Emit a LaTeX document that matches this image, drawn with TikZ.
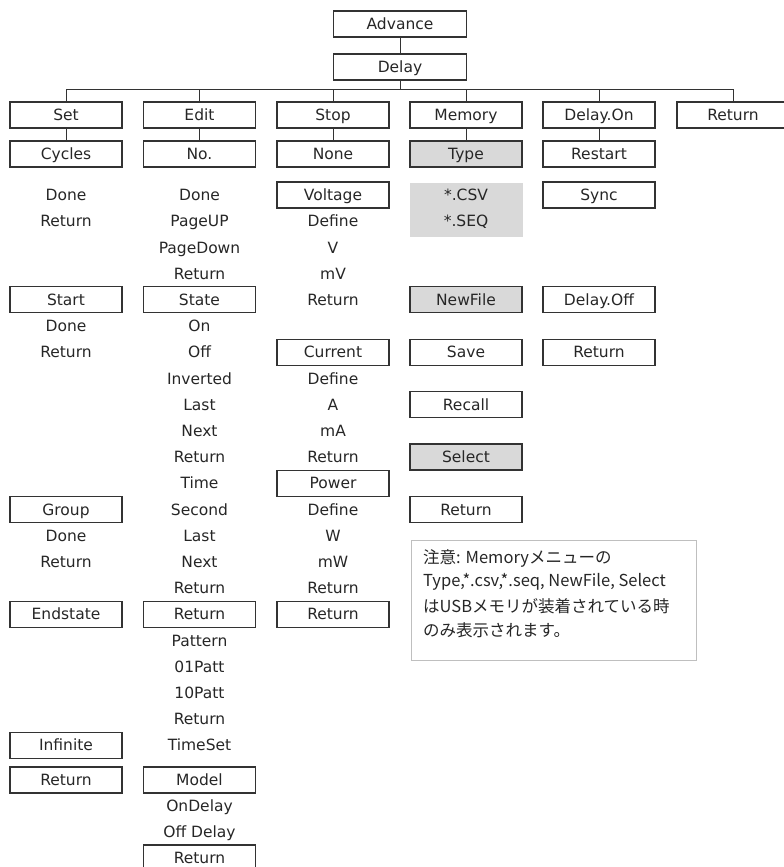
\documentclass[tikz,border=0pt]{standalone}
\usepackage{fontspec}
\setmainfont{DejaVu Sans}
\newfontfamily\jpfont{Noto Sans CJK JP}
\definecolor{boxline}{HTML}{333333}
\definecolor{txtcol}{HTML}{262626}
\definecolor{grayfill}{HTML}{D9D9D9}
\definecolor{noteline}{HTML}{BFBFBF}
\tikzset{
  mtxt/.style={inner sep=0pt, text=txtcol, font=\fontsize{15.5}{18}\selectfont, text height=15pt, text depth=3.5pt},
  mbox/.style={mtxt, draw=boxline, line width=1.15pt, minimum width=112pt, minimum height=26pt},
  gbox/.style={mbox, fill=grayfill},
  conn/.style={draw=boxline, line width=1pt},
  notetxt/.style={anchor=west, inner sep=0pt, text=txtcol, font=\jpfont\fontsize{16.5}{20}\selectfont}
}
\begin{document}
\begin{tikzpicture}[x=1pt,y=-1pt]
\useasboundingbox (0,0) rectangle (784,867);
\clip (0,0) rectangle (784,867);
% top
\node[mbox, minimum width=133pt] (advance) at (400,24) {Advance};
\node[mbox, minimum width=133pt] (delay) at (400,67) {Delay};
% level 1
\node[mbox] (set) at (66,115) {Set};
\node[mbox] (edit) at (199.5,115) {Edit};
\node[mbox] (stop) at (333,115) {Stop};
\node[mbox] (memory) at (466,115) {Memory};
\node[mbox] (delayon) at (599,115) {Delay.On};
\node[mbox] (ret) at (733,115) {Return};
% level 2
\node[mbox] (cycles) at (66,154) {Cycles};
\node[mbox] (no) at (199.5,154) {No.};
\node[mbox] (none) at (333,154) {None};
\node[gbox] (type) at (466,154) {Type};
\node[mbox] (restart) at (599,154) {Restart};
% connectors
\draw[conn] (advance) -- (delay);
\coordinate (bus) at (400,89);
\foreach \n in {set,edit,stop,memory,delayon,ret}{
  \draw[conn] (delay.south) -- (bus) -| (\n.north);
}
\draw[conn] (set) -- (cycles);
\draw[conn] (edit) -- (no);
\draw[conn] (stop) -- (none);
\draw[conn] (memory) -- (type);
\draw[conn] (delayon) -- (restart);
% Set column
\node[mtxt] (s1) at (66,195) {Done};
\node[mtxt] (s2) at (66,221.2) {Return};
\node[mbox] (start) at (66,299.8) {Start};
\node[mtxt] (s6) at (66,326) {Done};
\node[mtxt] (s7) at (66,352.2) {Return};
\node[mbox] (group) at (66,509.4) {Group};
\node[mtxt] (s14) at (66,535.6) {Done};
\node[mtxt] (s15) at (66,561.8) {Return};
\node[mbox] (endstate) at (66,614.2) {Endstate};
\node[mbox] (infinite) at (66,745.2) {Infinite};
\node[mbox] (setret) at (66,780) {Return};
% Edit column
\node[mtxt] (e1) at (199.5,195) {Done};
\node[mtxt] (e2) at (199.5,221.2) {PageUP};
\node[mtxt] (e3) at (199.5,247.4) {PageDown};
\node[mtxt] (e4) at (199.5,273.6) {Return};
\node[mbox] (state) at (199.5,299.8) {State};
\node[mtxt] (e6) at (199.5,326) {On};
\node[mtxt] (e7) at (199.5,352.2) {Off};
\node[mtxt] (e8) at (199.5,378.4) {Inverted};
\node[mtxt] (e9) at (199.5,404.6) {Last};
\node[mtxt] (e10) at (199.5,430.8) {Next};
\node[mtxt] (e11) at (199.5,457) {Return};
\node[mtxt] (e12) at (199.5,483.2) {Time};
\node[mtxt] (e13) at (199.5,509.4) {Second};
\node[mtxt] (e14) at (199.5,535.6) {Last};
\node[mtxt] (e15) at (199.5,561.8) {Next};
\node[mtxt] (e16) at (199.5,588) {Return};
\node[mbox] (editret) at (199.5,614.2) {Return};
\node[mtxt] (e18) at (199.5,640.4) {Pattern};
\node[mtxt] (e19) at (199.5,666.6) {01Patt};
\node[mtxt] (e20) at (199.5,692.8) {10Patt};
\node[mtxt] (e21) at (199.5,719) {Return};
\node[mtxt] (e22) at (199.5,745.2) {TimeSet};
\node[mbox] (model) at (199.5,780) {Model};
\node[mtxt] (e24) at (199.5,806) {OnDelay};
\node[mtxt] (e25) at (199.5,832) {Off Delay};
\node[mbox] (modelret) at (199.5,858) {Return};
% Stop column
\node[mbox] (voltage) at (333,195) {Voltage};
\node[mtxt] (t2) at (333,221.2) {Define};
\node[mtxt] (t3) at (333,247.4) {V};
\node[mtxt] (t4) at (333,273.6) {mV};
\node[mtxt] (t5) at (333,299.8) {Return};
\node[mbox] (current) at (333,352.2) {Current};
\node[mtxt] (t8) at (333,378.4) {Define};
\node[mtxt] (t9) at (333,404.6) {A};
\node[mtxt] (t10) at (333,430.8) {mA};
\node[mtxt] (t11) at (333,457) {Return};
\node[mbox] (power) at (333,483.2) {Power};
\node[mtxt] (t13) at (333,509.4) {Define};
\node[mtxt] (t14) at (333,535.6) {W};
\node[mtxt] (t15) at (333,561.8) {mW};
\node[mtxt] (t16) at (333,588) {Return};
\node[mbox] (stopret) at (333,614.2) {Return};
% Memory column
\node[fill=grayfill, inner sep=0pt, minimum width=113pt, minimum height=54pt] (csvbg) at (466.5,210) {};
\node[mtxt] (csv) at (466,195) {*.CSV};
\node[mtxt] (seq) at (466,221.2) {*.SEQ};
\node[gbox] (newfile) at (466,299.8) {NewFile};
\node[mbox] (save) at (466,352.2) {Save};
\node[mbox] (recall) at (466,404.6) {Recall};
\node[gbox] (select) at (466,457) {Select};
\node[mbox] (memret) at (466,509.4) {Return};
% Delay.On column
\node[mbox] (sync) at (599,195) {Sync};
\node[mbox] (delayoff) at (599,299.8) {Delay.Off};
\node[mbox] (donret) at (599,352.2) {Return};
% Note
\node[draw=noteline, line width=1pt, minimum width=285pt, minimum height=120pt, inner sep=0pt] (note) at (553.5,600) {};
\node[notetxt] (n1) at (423,558) {注意: Memoryメニューの};
\node[notetxt] (n2) at (423,582) {Type,*.csv,*.seq, NewFile, Select};
\node[notetxt] (n3) at (423,606) {はUSBメモリが装着されている時};
\node[notetxt] (n4) at (423,630) {のみ表示されます。};
\end{tikzpicture}
\end{document}
